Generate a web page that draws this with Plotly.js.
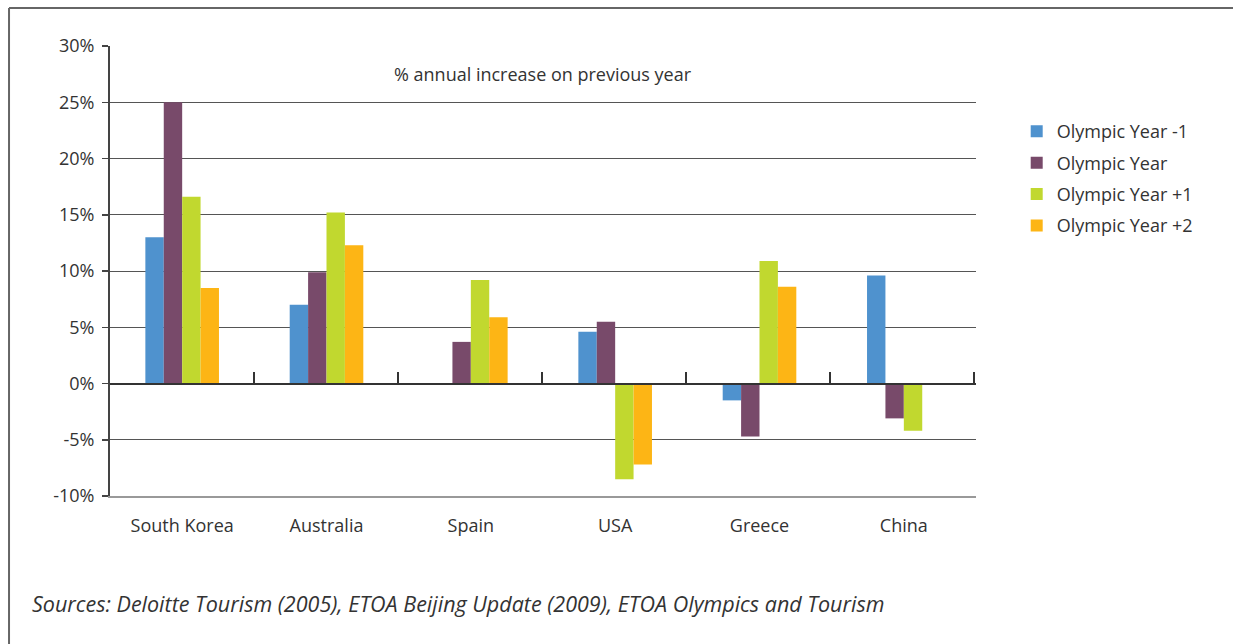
<!DOCTYPE html>
<html>
<head>
<meta charset="utf-8">
<script src="https://cdn.plot.ly/plotly-3.0.1.min.js"></script>
<style>html,body{margin:0;padding:0;background:#fff;}#chart{width:1233px;height:644px;}</style>
</head>
<body>
<div id="chart"></div>
<script>
const countries = ["South Korea", "Australia", "Spain", "USA", "Greece", "China"];
const seriesNames = ["Olympic Year -1", "Olympic Year", "Olympic Year +1", "Olympic Year +2"];
const yearMinus1 = [13.0, 7.0, null, 4.6, -1.5, 9.6];
const olympicYear = [25.0, 9.9, 3.7, 5.5, -4.7, -3.1];
const yearPlus1 = [16.6, 15.2, 9.2, -8.5, 10.9, -4.2];
const yearPlus2 = [8.5, 12.3, 5.9, -7.2, 8.6, null];
const colors = ["#4F92CE", "#784A6A", "#C1D82F", "#FDB515"];
const yTickVals = [-10, -5, 0, 5, 10, 15, 20, 25, 30];
const yTickText = ["-10%", "-5%", "0%", "5%", "10%", "15%", "20%", "25%", "30%"];
const boundaryTicks = [0.5, 1.5, 2.5, 3.5, 4.5, 5.5];

const allSeries = [yearMinus1, olympicYear, yearPlus1, yearPlus2];
const traces = allSeries.map((vals, i) => ({
  type: "bar",
  name: seriesNames[i],
  legendgroup: "g" + i,
  x: countries,
  y: vals,
  marker: {color: colors[i], line: {width: 0}},
  hoverinfo: "x+y+name"
}));
// helper trace so the zero-line axis (x2) with category-boundary ticks is drawn
traces.push({
  type: "scatter", mode: "none", x: [0.5], y: [0], xaxis: "x2", yaxis: "y",
  showlegend: false, hoverinfo: "skip"
});

const font = {family: "Open Sans, Noto Sans, sans-serif", color: "#333"};

const layout = {
  width: 1233, height: 644,
  margin: {l: 110, r: 257, t: 46, b: 148},
  paper_bgcolor: "#fff", plot_bgcolor: "#fff",
  font: Object.assign({size: 18}, font),
  barmode: "group", bargap: 0.49, bargroupgap: 0,
  showlegend: true,
  legend: {
    x: 1.047, y: 0.851, xanchor: "left", yanchor: "top",
    font: Object.assign({size: 18}, font),
    traceorder: "grouped", tracegroupgap: 5
  },
  xaxis: {
    type: "category", range: [-0.5, 5.5],
    showline: true, linecolor: "#999", linewidth: 2,
    ticks: "", showgrid: false, zeroline: false,
    tickfont: Object.assign({size: 18}, font),
    ticklabelstandoff: 12
  },
  xaxis2: {
    overlaying: "x", anchor: "free", position: 0.25, side: "bottom",
    range: [-0.5, 5.512], tickmode: "array", tickvals: boundaryTicks,
    ticks: "inside", ticklen: 11, tickwidth: 2, tickcolor: "#333",
    showticklabels: false, showgrid: false, zeroline: false,
    showline: true, linecolor: "#333", linewidth: 2
  },
  yaxis: {
    range: [-10, 30], tickmode: "array", tickvals: yTickVals, ticktext: yTickText,
    showline: true, linecolor: "#444", linewidth: 2,
    ticks: "outside", ticklen: 6, tickcolor: "#444", tickwidth: 1.5,
    gridcolor: "#555", gridwidth: 1, zeroline: false,
    tickfont: Object.assign({size: 18}, font),
    ticklabelstandoff: 4
  },
  annotations: [
    {text: "% annual increase on previous year", xref: "paper", yref: "paper",
     x: 0.5, y: 0.938, xanchor: "center", yanchor: "middle", showarrow: false,
     font: Object.assign({size: 18}, font)},
    {text: "<i>Sources: Deloitte Tourism (2005), ETOA Beijing Update (2009), ETOA Olympics and Tourism</i>",
     xref: "paper", yref: "paper", x: -0.0925, y: -0.238, xanchor: "left", yanchor: "middle",
     showarrow: false, font: Object.assign({size: 21.5}, font)}
  ],
  shapes: [
    {type: "line", xref: "paper", yref: "paper", x0: -0.1166, x1: 1.2968, y0: 1.0844, y1: 1.0844,
     line: {color: "#666", width: 2}},
    {type: "line", xref: "paper", yref: "paper", x0: -0.1166, x1: -0.1166, y0: 1.0844, y1: -0.33,
     line: {color: "#666", width: 2}}
  ]
};

Plotly.newPlot("chart", traces, layout, {displayModeBar: false, staticPlot: true});
</script>
</body>
</html>
